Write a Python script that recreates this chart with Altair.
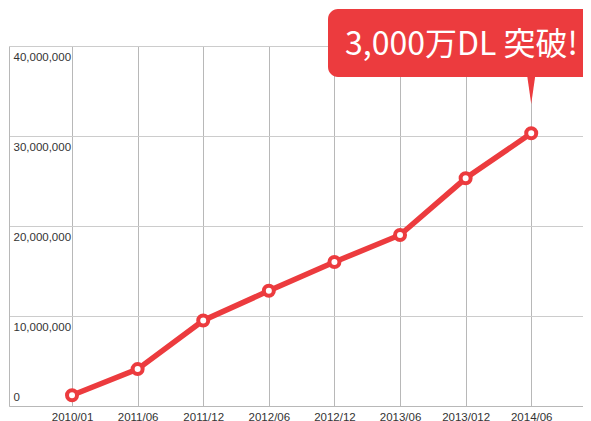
import altair as alt
import pandas as pd

# ---- data ----
months = ["2010/01", "2011/06", "2011/12", "2012/06", "2012/12", "2013/06", "2013/012", "2014/06"]
downloads = [1200000, 4100000, 9500000, 12800000, 16000000, 19000000, 25300000, 30300000]
y_ticks = [0, 10000000, 20000000, 30000000, 40000000]
callout_text = "3,000万DL 突破!"

RED = "#ec3b3e"
LABEL_FONT = "Liberation Sans"

df = pd.DataFrame({"month": months, "downloads": downloads})
callout_df = pd.DataFrame({"month": [months[-1]], "t": [callout_text]})

x_enc = alt.X(
    "month:N",
    sort=months,
    scale=alt.Scale(type="point", domain=months, padding=0.875, align=0.549),
    axis=alt.Axis(
        title=None, labelAngle=0, grid=True, gridColor="#b8b8b8", gridWidth=1,
        ticks=False, domain=True, domainColor="#b8b8b8", labelPadding=5,
        labelFont=LABEL_FONT, labelFontSize=11.5, labelColor="#333333",
    ),
)
y_enc = alt.Y(
    "downloads:Q",
    scale=alt.Scale(domain=[0, 40000000], nice=False, zero=True),
    axis=alt.Axis(
        title=None, values=y_ticks, format=",d", grid=True, gridColor="#cccccc",
        gridWidth=1, ticks=False, domain=True, domainColor="#b8b8b8",
        labelAlign="left", labelPadding=-4, labelFlush=False,
        labelBaseline={"condition": {"test": "datum.value == 0", "value": "bottom"}, "value": "top"},
        labelOffset={"condition": {"test": "datum.value == 0", "value": -4}, "value": 5},
        labelFont=LABEL_FONT, labelFontSize=11.5, labelColor="#333333",
    ),
)

line = alt.Chart(df).mark_line(color=RED, strokeWidth=5.5).encode(x=x_enc, y=y_enc)
points = alt.Chart(df).mark_point(
    shape="circle", filled=True, fill="white", stroke=RED, strokeWidth=4, size=100, opacity=1
).encode(x=alt.X("month:N", sort=months), y="downloads:Q")

box = alt.Chart(callout_df).mark_rect(color=RED, cornerRadius=10).encode(
    x=alt.value(319), x2=alt.value(640), y=alt.value(-37), y2=alt.value(31)
)
pointer = alt.Chart(callout_df).mark_point(
    shape="M -0.3 -1.1 L 0.3 -1.1 L 0 1 Z", filled=True, fill=RED, size=729,
    opacity=1, strokeWidth=0
).encode(x=alt.X("month:N", sort=months), y=alt.value(44.5))
label = alt.Chart(callout_df).mark_text(
    align="left", baseline="alphabetic", font="Noto Sans CJK JP", fontSize=32, color="white"
).encode(x=alt.value(336), y=alt.value(9), text="t:N")

chart = alt.layer(line, points, box, pointer, label).properties(
    width=574, height=360,
    padding={"left": 1, "top": 38, "right": 0, "bottom": 15},
    autosize=alt.AutoSizeParams(type="none"),
).configure_view(strokeWidth=0)

chart.save("out.html", embed_options={"renderer": "svg", "actions": False})
